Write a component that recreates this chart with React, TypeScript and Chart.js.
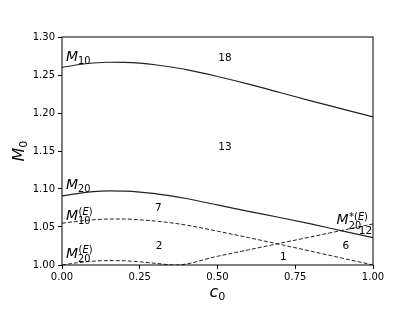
import { useEffect, useRef } from "react";
import { Chart, registerables } from "chart.js";

Chart.register(...registerables);

// ---- data ----
const cGrid = [0, 0.05, 0.1, 0.15, 0.2, 0.25, 0.3, 0.35, 0.4, 0.5, 0.6, 0.7, 0.8, 0.9, 1.0];
const m10 = [1.26, 1.2635, 1.2658, 1.2668, 1.2666, 1.2655, 1.2635, 1.2605, 1.257, 1.248, 1.238, 1.227, 1.216, 1.2055, 1.195];
const m20 = [1.091, 1.094, 1.0965, 1.0975, 1.0972, 1.096, 1.094, 1.091, 1.0875, 1.079, 1.0705, 1.0625, 1.054, 1.045, 1.036];
const m10E = [1.055, 1.0575, 1.0595, 1.0605, 1.0605, 1.0595, 1.0578, 1.0555, 1.0525, 1.0445, 1.036, 1.0272, 1.0182, 1.0091, 1.0];
const cGridE = [0, 0.05, 0.1, 0.15, 0.2, 0.25, 0.3, 0.365, 0.5, 0.6, 0.7, 0.8, 0.9, 1.0];
const m20E = [1.0, 1.003, 1.005, 1.0058, 1.0055, 1.0042, 1.0022, 1.0, 1.0115, 1.02, 1.0285, 1.037, 1.0455, 1.054];

const xTicks = [0, 0.25, 0.5, 0.75, 1.0];
const yTicks = [1.0, 1.05, 1.1, 1.15, 1.2, 1.25, 1.3];

// region numbers (text, c, M)
const regionText = ["18", "13", "7", "2", "1", "6", "12"];
const regionC = [0.524, 0.524, 0.31, 0.312, 0.712, 0.913, 0.976];
const regionM = [1.272, 1.155, 1.0746, 1.025, 1.01, 1.025, 1.045];

// curve labels: base, subscript, superscript segments
const curveBase = ["M", "M", "M", "M", "M"];
const curveSub = ["10", "20", "10", "20", "20"];
const curveSup = ["", "", "(E)", "(E)", "*(E)"];
const curveC = [0.013, 0.013, 0.013, 0.013, 0.883];
const curveM = [1.2745, 1.1065, 1.0664, 1.0164, 1.0605];

const FONT = '"DejaVu Sans", sans-serif';

function drawMath(
  ctx: CanvasRenderingContext2D,
  x: number,
  baseY: number,
  base: string,
  sub: string,
  sup: string,
  size: number
) {
  ctx.textBaseline = "alphabetic";
  ctx.textAlign = "left";
  ctx.font = `italic ${size}px ${FONT}`;
  ctx.fillText(base, x, baseY);
  const w = ctx.measureText(base).width;
  const s = size * 0.7;
  const subY = sup ? baseY + 0.32 * size : baseY + 0.2 * size;
  ctx.font = `${s}px ${FONT}`;
  ctx.fillText(sub, x + w, subY);
  if (sup) {
    let sx = x + w + 0.5;
    const supY = baseY - 0.3 * size;
    for (const ch of sup) {
      ctx.font = ch === "E" ? `italic ${s}px ${FONT}` : `${s}px ${FONT}`;
      ctx.fillText(ch, sx, supY);
      sx += ctx.measureText(ch).width;
    }
  }
}

function mathWidth(ctx: CanvasRenderingContext2D, base: string, sub: string, size: number) {
  ctx.font = `italic ${size}px ${FONT}`;
  const w = ctx.measureText(base).width;
  ctx.font = `${size * 0.7}px ${FONT}`;
  return w + ctx.measureText(sub).width;
}

const labelsPlugin = {
  id: "labelsPlugin",
  afterDraw(chart: any) {
    const ctx: CanvasRenderingContext2D = chart.ctx;
    const xs = chart.scales.x;
    const ys = chart.scales.y;
    const ca = chart.chartArea;
    ctx.save();
    // spines
    ctx.strokeStyle = "#000";
    ctx.lineWidth = 1;
    ctx.strokeRect(ca.left, ca.top, ca.right - ca.left, ca.bottom - ca.top);
    ctx.fillStyle = "#000";
    // region numbers
    ctx.font = `10.5px ${FONT}`;
    ctx.textAlign = "center";
    ctx.textBaseline = "middle";
    regionText.forEach((t, i) => {
      ctx.fillText(t, xs.getPixelForValue(regionC[i]), ys.getPixelForValue(regionM[i]));
    });
    // curve labels
    const size = 14;
    curveBase.forEach((b, i) => {
      const px = xs.getPixelForValue(curveC[i]);
      const py = ys.getPixelForValue(curveM[i]) + 0.73 * size * 0.5;
      drawMath(ctx, px, py, b, curveSub[i], curveSup[i], size);
    });
    // x title
    const ts = 16;
    const xw = mathWidth(ctx, "c", "0", ts);
    drawMath(ctx, (ca.left + ca.right) / 2 - xw / 2, 297, "c", "0", "", ts);
    // y title
    const yw = mathWidth(ctx, "M", "0", ts);
    ctx.translate(24, (ca.top + ca.bottom) / 2);
    ctx.rotate(-Math.PI / 2);
    drawMath(ctx, -yw / 2, 0, "M", "0", "", ts);
    ctx.restore();
  },
};

export default function App() {
  const ref = useRef<HTMLCanvasElement>(null);
  useEffect(() => {
    document.body.style.margin = "0";
    const canvas = ref.current!;
    const mk = (xsArr: number[], ysArr: number[]) => xsArr.map((x, i) => ({ x, y: ysArr[i] }));
    const solid = { borderColor: "#222", borderWidth: 1.2, pointRadius: 0, cubicInterpolationMode: "monotone" as const, fill: false };
    const dashed = { ...solid, borderWidth: 1, borderDash: [4, 2] };
    const chart = new Chart(canvas, {
      type: "line",
      data: {
        datasets: [
          { label: "M10", data: mk(cGrid, m10), ...solid },
          { label: "M20", data: mk(cGrid, m20), ...solid },
          { label: "M10E", data: mk(cGrid, m10E), ...dashed },
          { label: "M20E", data: mk(cGridE, m20E), ...dashed },
        ],
      },
      options: {
        animation: false,
        responsive: false,
        events: [],
        layout: { padding: { top: 37, right: 42, left: 0, bottom: 0 } },
        plugins: { legend: { display: false }, tooltip: { enabled: false } },
        scales: {
          x: {
            type: "linear",
            min: 0,
            max: 1,
            afterFit: (s: any) => { s.height = 47; },
            afterBuildTicks: (s: any) => { s.ticks = xTicks.map((v) => ({ value: v })); },
            ticks: {
              autoSkip: false,
              maxRotation: 0,
              padding: 2,
              color: "#000",
              font: { family: "DejaVu Sans", size: 10 },
              callback: (v: any) => Number(v).toFixed(2),
            },
            grid: { display: true, drawOnChartArea: false, drawTicks: true, tickLength: 4, color: "#000" },
            border: { display: false },
          },
          y: {
            type: "linear",
            min: 1.0,
            max: 1.3,
            afterFit: (s: any) => { s.width = 62; },
            afterBuildTicks: (s: any) => { s.ticks = yTicks.map((v) => ({ value: v })); },
            ticks: {
              autoSkip: false,
              padding: 3,
              color: "#000",
              font: { family: "DejaVu Sans", size: 10 },
              callback: (v: any) => Number(v).toFixed(2),
            },
            grid: { display: true, drawOnChartArea: false, drawTicks: true, tickLength: 4, color: "#000" },
            border: { display: false },
          },
        },
      },
      plugins: [labelsPlugin],
    });
    return () => chart.destroy();
  }, []);
  return (
    <div style={{ position: "absolute", left: 0, top: 0, width: 415, height: 312, background: "#fff" }}>
      <canvas ref={ref} width={415} height={312} style={{ display: "block" }} />
    </div>
  );
}
